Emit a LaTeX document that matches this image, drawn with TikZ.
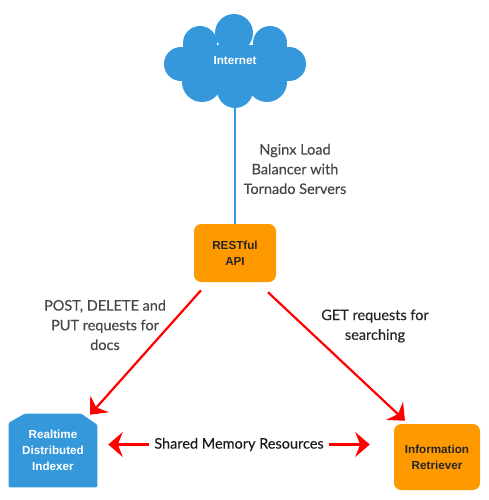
\documentclass[tikz,border=0pt]{standalone}
\usepackage{fontspec}
\setmainfont{Lato}[FakeBold=0.25]
\setsansfont{Liberation Sans}
\usepackage{xcolor}
\usetikzlibrary{arrows.meta,positioning,calc,backgrounds}
\definecolor{cloudblue}{HTML}{3498DB}
\definecolor{boxorange}{HTML}{FF9900}

\begin{document}
\begin{tikzpicture}[
  x=0.25mm, y=-0.25mm,
  >={Stealth[length=3.6mm,width=6.2mm,inset=1.2mm]},
  every node/.style={font=\fontsize{8.3}{11.3}\selectfont\sffamily\bfseries, align=center},
  orangebox/.style={fill=boxorange, rounded corners=1.8mm, text=black!85},
  bluebox/.style={text=white, inner sep=0pt, minimum width=22mm, minimum height=18.25mm},
  lbl/.style={font=\fontsize{10.3}{14}\selectfont\rmfamily\mdseries, inner sep=1.25mm},
  arr/.style={->, red, line width=0.55mm},
]
  \useasboundingbox (0,0) rectangle (488,500);
  % cloud made of overlapping lobes
  \foreach \cx/\cy/\rr in {234/33/19, 200/43/17, 270/43/17, 181/64/17, 289/64/17, 202/82/20, 267/82/20, 235/90/18}
    \fill[cloudblue] (\cx,\cy) circle[radius=\rr];
  \fill[cloudblue] (183,45) rectangle (287,84);

  \node[text=white, minimum width=35.5mm, minimum height=23.5mm] (inet) at (235,61) {Internet};
  \node[orangebox, minimum width=20.5mm, minimum height=14.5mm] (api) at (235,253) {RESTful\\API};
  \node[bluebox] (idx) at (53,450.5) {Realtime\\Distributed\\Indexer};
  \node[orangebox, minimum width=21.5mm, minimum height=16.5mm] (ret) at (437,457) {Information\\Retriever};

  \begin{scope}[on background layer]
    \fill[cloudblue, rounded corners=0.3mm] ($(idx.north west)+(0,9)$) -- ($(idx.north west)+(16,0)$) -- ($(idx.north east)+(-16,0)$)
      -- ($(idx.north east)+(0,11)$) -- (idx.south east) -- (idx.south west) -- cycle;
  \end{scope}

  \node[lbl, text=black!72] (lb) at (295,169) {Nginx Load\\Balancer with\\Tornado Servers};
  \node[lbl, text=black!72] (post) at (105,325) {POST, DELETE and\\PUT requests for\\docs};
  \node[lbl, text=black!85] (get) at (375,326) {GET requests for\\searching};
  \node[lbl, text=black!90] (mem) at (239,444.5) {Shared Memory Resources};

  \draw[cloudblue, line width=0.6mm] (inet.south) -- (api.north);
  \draw[arr] ($(api.south)+(-34,8)$) -- ($(idx.north)+(37,1)$);
  \draw[arr] ($(api.south)+(33,10)$) -- ($(ret.north)+(-32,-3)$);
  \draw[arr] (mem.west) -- ($(idx.east)+(11,-6)$);
  \draw[arr] (mem.east) -- ($(ret.west)+(-24,-12.5)$);
\end{tikzpicture}
\end{document}
